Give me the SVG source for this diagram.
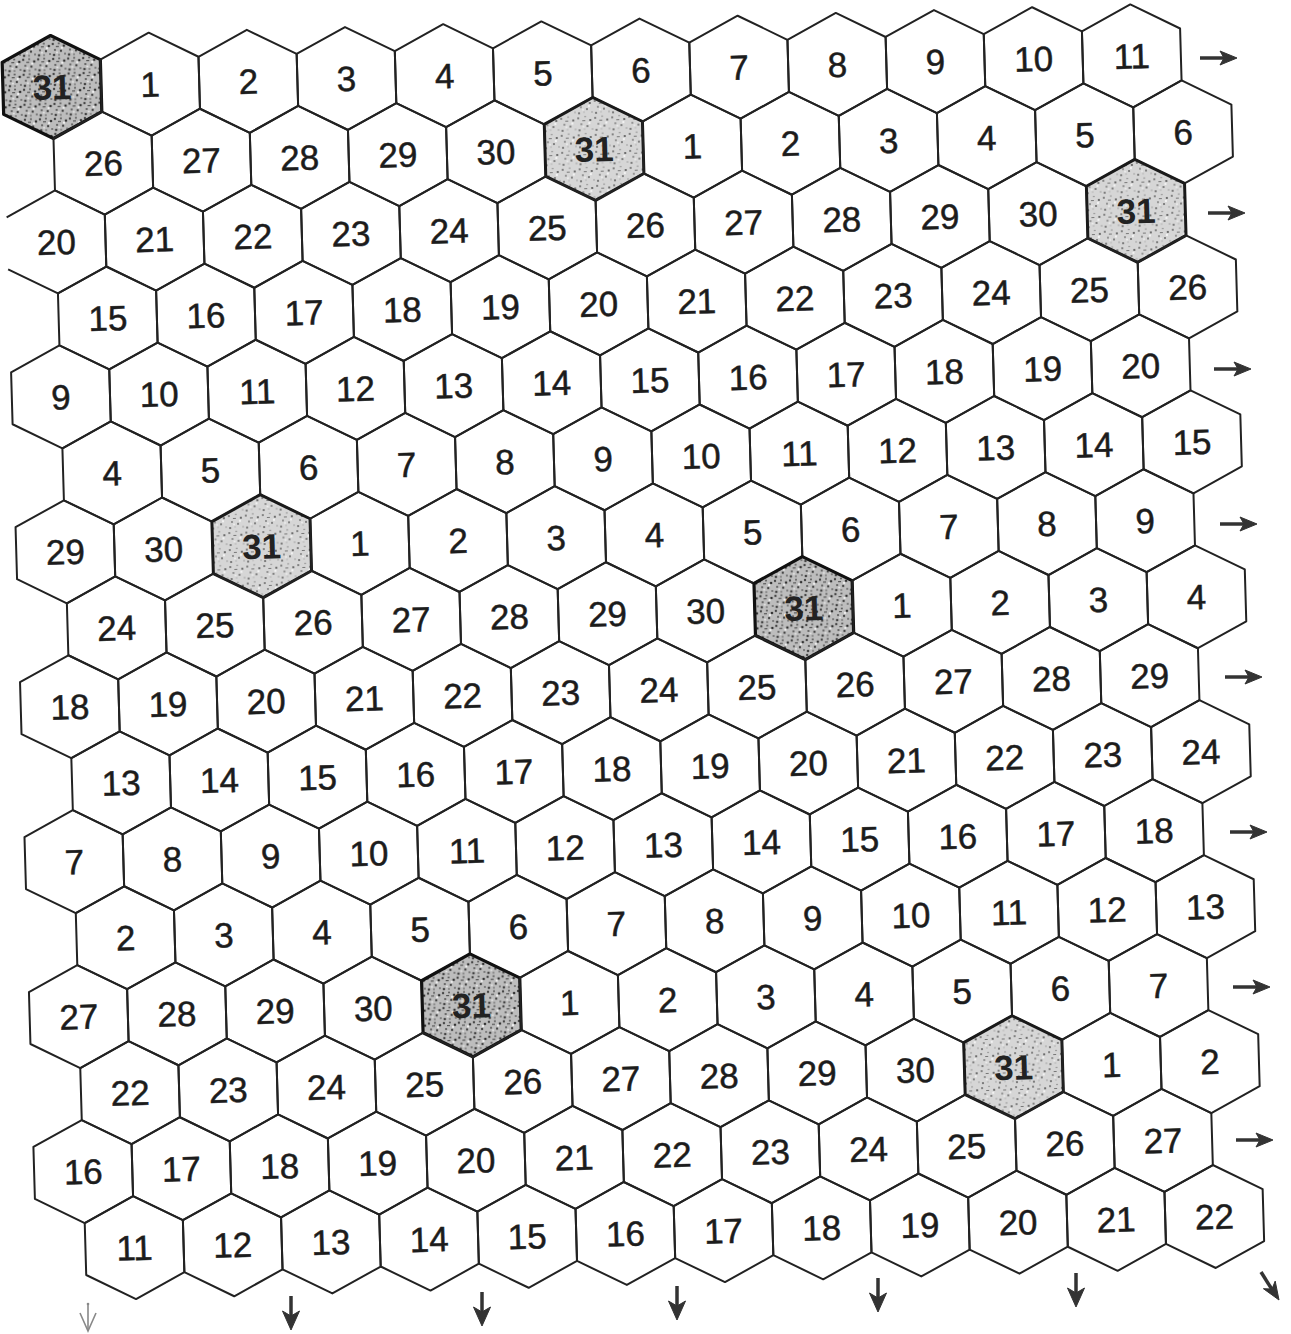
<svg xmlns="http://www.w3.org/2000/svg" xmlns:xlink="http://www.w3.org/1999/xlink" width="1291" height="1334" viewBox="0 0 1291 1334">
<style>
.c{fill:none;stroke:#222;stroke-width:2;stroke-linejoin:round}
.s{fill:url(#dots);stroke:#1a1a1a;stroke-width:3;stroke-linejoin:round}
.sd{fill:url(#dotsd);stroke:#111;stroke-width:3.2;stroke-linejoin:round}
text{font-family:"Liberation Sans",Arial,sans-serif;font-size:35px;text-anchor:middle;fill:#1c1c1c;stroke:#1c1c1c;stroke-width:0.5}
text.b{font-weight:bold;fill:#222;stroke:none}
.sh{stroke:#333;stroke-width:3.5;fill:none}
.hd{fill:#333;stroke:#333;stroke-width:1;stroke-linejoin:round}
.fs{stroke:#888;stroke-width:1.6;fill:none}
</style>
<defs>
<polygon id="hx" points="0,-51.5 49.1,-26 49.1,26 0,51.5 -49.1,26 -49.1,-26"/>
<path id="hxo" d="M-49.1,26 L0,51.5 L49.1,26 L49.1,-26 L0,-51.5 L-49.1,-26"/>
<pattern id="dots" width="17" height="17" patternUnits="userSpaceOnUse">
<rect width="17" height="17" fill="#d6d6d6"/>
<circle cx="2" cy="3" r="1" fill="#666"/><circle cx="9" cy="1.5" r="0.8" fill="#888"/><circle cx="14" cy="5" r="1.1" fill="#555"/>
<circle cx="5" cy="9" r="0.9" fill="#777"/><circle cx="11" cy="11" r="1" fill="#666"/><circle cx="16" cy="14" r="0.8" fill="#999"/>
<circle cx="3" cy="15" r="1.1" fill="#666"/><circle cx="8" cy="14" r="0.7" fill="#aaa"/><rect x="6" y="5" width="3" height="1" fill="#777"/>
<circle cx="13" cy="8" r="1.2" fill="#f2f2f2"/><circle cx="7" cy="11.5" r="1" fill="#eee"/>
</pattern>
<pattern id="dotsd" width="15" height="15" patternUnits="userSpaceOnUse">
<rect width="15" height="15" fill="#bdbdbd"/>
<circle cx="2" cy="2" r="1.2" fill="#444"/><circle cx="8" cy="1.5" r="1" fill="#555"/><circle cx="13" cy="4" r="1.3" fill="#333"/>
<circle cx="4" cy="8" r="1.1" fill="#555"/><circle cx="10" cy="9" r="1.2" fill="#444"/><circle cx="14" cy="12" r="1" fill="#666"/>
<circle cx="3" cy="13" r="1.3" fill="#444"/><circle cx="8" cy="13" r="0.9" fill="#777"/><rect x="5" y="4" width="3" height="1.2" fill="#555"/>
<circle cx="11" cy="6" r="1.2" fill="#eee"/><circle cx="6" cy="10.5" r="1" fill="#e6e6e6"/>
</pattern>
<g id="rarr"><line class="sh" x1="-37" y1="0" x2="-8" y2="0"/><polygon class="hd" points="0,0 -17,-7 -13,0 -17,7"/></g>
<g id="darr"><line class="sh" x1="0" y1="-34" x2="0" y2="-10"/><polygon class="hd" points="0,0 -8.5,-19 0,-14 8.5,-19"/></g>
</defs>
<rect width="1291" height="1334" fill="#fff"/>
<g id="grid" transform="translate(52 87) rotate(-1.65)">
<g id="row0">
<g id="h0-0" transform="translate(0 0)"><use href="#hx" class="sd"/><text class="b" y="12.5">31</text></g>
<g id="h0-1" transform="translate(98.2 0)"><use href="#hx" class="c"/><text y="12.5">1</text></g>
<g id="h0-2" transform="translate(196.4 0)"><use href="#hx" class="c"/><text y="12.5">2</text></g>
<g id="h0-3" transform="translate(294.6 0)"><use href="#hx" class="c"/><text y="12.5">3</text></g>
<g id="h0-4" transform="translate(392.8 0)"><use href="#hx" class="c"/><text y="12.5">4</text></g>
<g id="h0-5" transform="translate(491 0)"><use href="#hx" class="c"/><text y="12.5">5</text></g>
<g id="h0-6" transform="translate(589.2 0)"><use href="#hx" class="c"/><text y="12.5">6</text></g>
<g id="h0-7" transform="translate(687.4 0)"><use href="#hx" class="c"/><text y="12.5">7</text></g>
<g id="h0-8" transform="translate(785.6 0)"><use href="#hx" class="c"/><text y="12.5">8</text></g>
<g id="h0-9" transform="translate(883.8 0)"><use href="#hx" class="c"/><text y="12.5">9</text></g>
<g id="h0-10" transform="translate(982 0)"><use href="#hx" class="c"/><text y="12.5">10</text></g>
<g id="h0-11" transform="translate(1080.2 0)"><use href="#hx" class="c"/><text y="12.5">11</text></g>
</g>
<g id="row1" transform="translate(0 77.5)">
<g id="h1-0" transform="translate(49.1 0)"><use href="#hx" class="c"/><text y="12.5">26</text></g>
<g id="h1-1" transform="translate(147.3 0)"><use href="#hx" class="c"/><text y="12.5">27</text></g>
<g id="h1-2" transform="translate(245.5 0)"><use href="#hx" class="c"/><text y="12.5">28</text></g>
<g id="h1-3" transform="translate(343.7 0)"><use href="#hx" class="c"/><text y="12.5">29</text></g>
<g id="h1-4" transform="translate(441.9 0)"><use href="#hx" class="c"/><text y="12.5">30</text></g>
<g id="h1-5" transform="translate(540.1 0)"><use href="#hx" class="s"/><text class="b" y="12.5">31</text></g>
<g id="h1-6" transform="translate(638.3 0)"><use href="#hx" class="c"/><text y="12.5">1</text></g>
<g id="h1-7" transform="translate(736.5 0)"><use href="#hx" class="c"/><text y="12.5">2</text></g>
<g id="h1-8" transform="translate(834.7 0)"><use href="#hx" class="c"/><text y="12.5">3</text></g>
<g id="h1-9" transform="translate(932.9 0)"><use href="#hx" class="c"/><text y="12.5">4</text></g>
<g id="h1-10" transform="translate(1031.1 0)"><use href="#hx" class="c"/><text y="12.5">5</text></g>
<g id="h1-11" transform="translate(1129.3 0)"><use href="#hx" class="c"/><text y="12.5">6</text></g>
</g>
<g id="row2" transform="translate(0 155)">
<g id="h2-0" transform="translate(0 0)"><use href="#hxo" class="c"/><text y="12.5">20</text></g>
<g id="h2-1" transform="translate(98.2 0)"><use href="#hx" class="c"/><text y="12.5">21</text></g>
<g id="h2-2" transform="translate(196.4 0)"><use href="#hx" class="c"/><text y="12.5">22</text></g>
<g id="h2-3" transform="translate(294.6 0)"><use href="#hx" class="c"/><text y="12.5">23</text></g>
<g id="h2-4" transform="translate(392.8 0)"><use href="#hx" class="c"/><text y="12.5">24</text></g>
<g id="h2-5" transform="translate(491 0)"><use href="#hx" class="c"/><text y="12.5">25</text></g>
<g id="h2-6" transform="translate(589.2 0)"><use href="#hx" class="c"/><text y="12.5">26</text></g>
<g id="h2-7" transform="translate(687.4 0)"><use href="#hx" class="c"/><text y="12.5">27</text></g>
<g id="h2-8" transform="translate(785.6 0)"><use href="#hx" class="c"/><text y="12.5">28</text></g>
<g id="h2-9" transform="translate(883.8 0)"><use href="#hx" class="c"/><text y="12.5">29</text></g>
<g id="h2-10" transform="translate(982 0)"><use href="#hx" class="c"/><text y="12.5">30</text></g>
<g id="h2-11" transform="translate(1080.2 0)"><use href="#hx" class="s"/><text class="b" y="12.5">31</text></g>
</g>
<g id="row3" transform="translate(0 232.5)">
<g id="h3-0" transform="translate(49.1 0)"><use href="#hx" class="c"/><text y="12.5">15</text></g>
<g id="h3-1" transform="translate(147.3 0)"><use href="#hx" class="c"/><text y="12.5">16</text></g>
<g id="h3-2" transform="translate(245.5 0)"><use href="#hx" class="c"/><text y="12.5">17</text></g>
<g id="h3-3" transform="translate(343.7 0)"><use href="#hx" class="c"/><text y="12.5">18</text></g>
<g id="h3-4" transform="translate(441.9 0)"><use href="#hx" class="c"/><text y="12.5">19</text></g>
<g id="h3-5" transform="translate(540.1 0)"><use href="#hx" class="c"/><text y="12.5">20</text></g>
<g id="h3-6" transform="translate(638.3 0)"><use href="#hx" class="c"/><text y="12.5">21</text></g>
<g id="h3-7" transform="translate(736.5 0)"><use href="#hx" class="c"/><text y="12.5">22</text></g>
<g id="h3-8" transform="translate(834.7 0)"><use href="#hx" class="c"/><text y="12.5">23</text></g>
<g id="h3-9" transform="translate(932.9 0)"><use href="#hx" class="c"/><text y="12.5">24</text></g>
<g id="h3-10" transform="translate(1031.1 0)"><use href="#hx" class="c"/><text y="12.5">25</text></g>
<g id="h3-11" transform="translate(1129.3 0)"><use href="#hx" class="c"/><text y="12.5">26</text></g>
</g>
<g id="row4" transform="translate(0 310)">
<g id="h4-0" transform="translate(0 0)"><use href="#hx" class="c"/><text y="12.5">9</text></g>
<g id="h4-1" transform="translate(98.2 0)"><use href="#hx" class="c"/><text y="12.5">10</text></g>
<g id="h4-2" transform="translate(196.4 0)"><use href="#hx" class="c"/><text y="12.5">11</text></g>
<g id="h4-3" transform="translate(294.6 0)"><use href="#hx" class="c"/><text y="12.5">12</text></g>
<g id="h4-4" transform="translate(392.8 0)"><use href="#hx" class="c"/><text y="12.5">13</text></g>
<g id="h4-5" transform="translate(491 0)"><use href="#hx" class="c"/><text y="12.5">14</text></g>
<g id="h4-6" transform="translate(589.2 0)"><use href="#hx" class="c"/><text y="12.5">15</text></g>
<g id="h4-7" transform="translate(687.4 0)"><use href="#hx" class="c"/><text y="12.5">16</text></g>
<g id="h4-8" transform="translate(785.6 0)"><use href="#hx" class="c"/><text y="12.5">17</text></g>
<g id="h4-9" transform="translate(883.8 0)"><use href="#hx" class="c"/><text y="12.5">18</text></g>
<g id="h4-10" transform="translate(982 0)"><use href="#hx" class="c"/><text y="12.5">19</text></g>
<g id="h4-11" transform="translate(1080.2 0)"><use href="#hx" class="c"/><text y="12.5">20</text></g>
</g>
<g id="row5" transform="translate(0 387.5)">
<g id="h5-0" transform="translate(49.1 0)"><use href="#hx" class="c"/><text y="12.5">4</text></g>
<g id="h5-1" transform="translate(147.3 0)"><use href="#hx" class="c"/><text y="12.5">5</text></g>
<g id="h5-2" transform="translate(245.5 0)"><use href="#hx" class="c"/><text y="12.5">6</text></g>
<g id="h5-3" transform="translate(343.7 0)"><use href="#hx" class="c"/><text y="12.5">7</text></g>
<g id="h5-4" transform="translate(441.9 0)"><use href="#hx" class="c"/><text y="12.5">8</text></g>
<g id="h5-5" transform="translate(540.1 0)"><use href="#hx" class="c"/><text y="12.5">9</text></g>
<g id="h5-6" transform="translate(638.3 0)"><use href="#hx" class="c"/><text y="12.5">10</text></g>
<g id="h5-7" transform="translate(736.5 0)"><use href="#hx" class="c"/><text y="12.5">11</text></g>
<g id="h5-8" transform="translate(834.7 0)"><use href="#hx" class="c"/><text y="12.5">12</text></g>
<g id="h5-9" transform="translate(932.9 0)"><use href="#hx" class="c"/><text y="12.5">13</text></g>
<g id="h5-10" transform="translate(1031.1 0)"><use href="#hx" class="c"/><text y="12.5">14</text></g>
<g id="h5-11" transform="translate(1129.3 0)"><use href="#hx" class="c"/><text y="12.5">15</text></g>
</g>
<g id="row6" transform="translate(0 465)">
<g id="h6-0" transform="translate(0 0)"><use href="#hx" class="c"/><text y="12.5">29</text></g>
<g id="h6-1" transform="translate(98.2 0)"><use href="#hx" class="c"/><text y="12.5">30</text></g>
<g id="h6-2" transform="translate(196.4 0)"><use href="#hx" class="s"/><text class="b" y="12.5">31</text></g>
<g id="h6-3" transform="translate(294.6 0)"><use href="#hx" class="c"/><text y="12.5">1</text></g>
<g id="h6-4" transform="translate(392.8 0)"><use href="#hx" class="c"/><text y="12.5">2</text></g>
<g id="h6-5" transform="translate(491 0)"><use href="#hx" class="c"/><text y="12.5">3</text></g>
<g id="h6-6" transform="translate(589.2 0)"><use href="#hx" class="c"/><text y="12.5">4</text></g>
<g id="h6-7" transform="translate(687.4 0)"><use href="#hx" class="c"/><text y="12.5">5</text></g>
<g id="h6-8" transform="translate(785.6 0)"><use href="#hx" class="c"/><text y="12.5">6</text></g>
<g id="h6-9" transform="translate(883.8 0)"><use href="#hx" class="c"/><text y="12.5">7</text></g>
<g id="h6-10" transform="translate(982 0)"><use href="#hx" class="c"/><text y="12.5">8</text></g>
<g id="h6-11" transform="translate(1080.2 0)"><use href="#hx" class="c"/><text y="12.5">9</text></g>
</g>
<g id="row7" transform="translate(0 542.5)">
<g id="h7-0" transform="translate(49.1 0)"><use href="#hx" class="c"/><text y="12.5">24</text></g>
<g id="h7-1" transform="translate(147.3 0)"><use href="#hx" class="c"/><text y="12.5">25</text></g>
<g id="h7-2" transform="translate(245.5 0)"><use href="#hx" class="c"/><text y="12.5">26</text></g>
<g id="h7-3" transform="translate(343.7 0)"><use href="#hx" class="c"/><text y="12.5">27</text></g>
<g id="h7-4" transform="translate(441.9 0)"><use href="#hx" class="c"/><text y="12.5">28</text></g>
<g id="h7-5" transform="translate(540.1 0)"><use href="#hx" class="c"/><text y="12.5">29</text></g>
<g id="h7-6" transform="translate(638.3 0)"><use href="#hx" class="c"/><text y="12.5">30</text></g>
<g id="h7-7" transform="translate(736.5 0)"><use href="#hx" class="sd"/><text class="b" y="12.5">31</text></g>
<g id="h7-8" transform="translate(834.7 0)"><use href="#hx" class="c"/><text y="12.5">1</text></g>
<g id="h7-9" transform="translate(932.9 0)"><use href="#hx" class="c"/><text y="12.5">2</text></g>
<g id="h7-10" transform="translate(1031.1 0)"><use href="#hx" class="c"/><text y="12.5">3</text></g>
<g id="h7-11" transform="translate(1129.3 0)"><use href="#hx" class="c"/><text y="12.5">4</text></g>
</g>
<g id="row8" transform="translate(0 620)">
<g id="h8-0" transform="translate(0 0)"><use href="#hx" class="c"/><text y="12.5">18</text></g>
<g id="h8-1" transform="translate(98.2 0)"><use href="#hx" class="c"/><text y="12.5">19</text></g>
<g id="h8-2" transform="translate(196.4 0)"><use href="#hx" class="c"/><text y="12.5">20</text></g>
<g id="h8-3" transform="translate(294.6 0)"><use href="#hx" class="c"/><text y="12.5">21</text></g>
<g id="h8-4" transform="translate(392.8 0)"><use href="#hx" class="c"/><text y="12.5">22</text></g>
<g id="h8-5" transform="translate(491 0)"><use href="#hx" class="c"/><text y="12.5">23</text></g>
<g id="h8-6" transform="translate(589.2 0)"><use href="#hx" class="c"/><text y="12.5">24</text></g>
<g id="h8-7" transform="translate(687.4 0)"><use href="#hx" class="c"/><text y="12.5">25</text></g>
<g id="h8-8" transform="translate(785.6 0)"><use href="#hx" class="c"/><text y="12.5">26</text></g>
<g id="h8-9" transform="translate(883.8 0)"><use href="#hx" class="c"/><text y="12.5">27</text></g>
<g id="h8-10" transform="translate(982 0)"><use href="#hx" class="c"/><text y="12.5">28</text></g>
<g id="h8-11" transform="translate(1080.2 0)"><use href="#hx" class="c"/><text y="12.5">29</text></g>
</g>
<g id="row9" transform="translate(0 697.5)">
<g id="h9-0" transform="translate(49.1 0)"><use href="#hx" class="c"/><text y="12.5">13</text></g>
<g id="h9-1" transform="translate(147.3 0)"><use href="#hx" class="c"/><text y="12.5">14</text></g>
<g id="h9-2" transform="translate(245.5 0)"><use href="#hx" class="c"/><text y="12.5">15</text></g>
<g id="h9-3" transform="translate(343.7 0)"><use href="#hx" class="c"/><text y="12.5">16</text></g>
<g id="h9-4" transform="translate(441.9 0)"><use href="#hx" class="c"/><text y="12.5">17</text></g>
<g id="h9-5" transform="translate(540.1 0)"><use href="#hx" class="c"/><text y="12.5">18</text></g>
<g id="h9-6" transform="translate(638.3 0)"><use href="#hx" class="c"/><text y="12.5">19</text></g>
<g id="h9-7" transform="translate(736.5 0)"><use href="#hx" class="c"/><text y="12.5">20</text></g>
<g id="h9-8" transform="translate(834.7 0)"><use href="#hx" class="c"/><text y="12.5">21</text></g>
<g id="h9-9" transform="translate(932.9 0)"><use href="#hx" class="c"/><text y="12.5">22</text></g>
<g id="h9-10" transform="translate(1031.1 0)"><use href="#hx" class="c"/><text y="12.5">23</text></g>
<g id="h9-11" transform="translate(1129.3 0)"><use href="#hx" class="c"/><text y="12.5">24</text></g>
</g>
<g id="row10" transform="translate(0 775)">
<g id="h10-0" transform="translate(0 0)"><use href="#hx" class="c"/><text y="12.5">7</text></g>
<g id="h10-1" transform="translate(98.2 0)"><use href="#hx" class="c"/><text y="12.5">8</text></g>
<g id="h10-2" transform="translate(196.4 0)"><use href="#hx" class="c"/><text y="12.5">9</text></g>
<g id="h10-3" transform="translate(294.6 0)"><use href="#hx" class="c"/><text y="12.5">10</text></g>
<g id="h10-4" transform="translate(392.8 0)"><use href="#hx" class="c"/><text y="12.5">11</text></g>
<g id="h10-5" transform="translate(491 0)"><use href="#hx" class="c"/><text y="12.5">12</text></g>
<g id="h10-6" transform="translate(589.2 0)"><use href="#hx" class="c"/><text y="12.5">13</text></g>
<g id="h10-7" transform="translate(687.4 0)"><use href="#hx" class="c"/><text y="12.5">14</text></g>
<g id="h10-8" transform="translate(785.6 0)"><use href="#hx" class="c"/><text y="12.5">15</text></g>
<g id="h10-9" transform="translate(883.8 0)"><use href="#hx" class="c"/><text y="12.5">16</text></g>
<g id="h10-10" transform="translate(982 0)"><use href="#hx" class="c"/><text y="12.5">17</text></g>
<g id="h10-11" transform="translate(1080.2 0)"><use href="#hx" class="c"/><text y="12.5">18</text></g>
</g>
<g id="row11" transform="translate(0 852.5)">
<g id="h11-0" transform="translate(49.1 0)"><use href="#hx" class="c"/><text y="12.5">2</text></g>
<g id="h11-1" transform="translate(147.3 0)"><use href="#hx" class="c"/><text y="12.5">3</text></g>
<g id="h11-2" transform="translate(245.5 0)"><use href="#hx" class="c"/><text y="12.5">4</text></g>
<g id="h11-3" transform="translate(343.7 0)"><use href="#hx" class="c"/><text y="12.5">5</text></g>
<g id="h11-4" transform="translate(441.9 0)"><use href="#hx" class="c"/><text y="12.5">6</text></g>
<g id="h11-5" transform="translate(540.1 0)"><use href="#hx" class="c"/><text y="12.5">7</text></g>
<g id="h11-6" transform="translate(638.3 0)"><use href="#hx" class="c"/><text y="12.5">8</text></g>
<g id="h11-7" transform="translate(736.5 0)"><use href="#hx" class="c"/><text y="12.5">9</text></g>
<g id="h11-8" transform="translate(834.7 0)"><use href="#hx" class="c"/><text y="12.5">10</text></g>
<g id="h11-9" transform="translate(932.9 0)"><use href="#hx" class="c"/><text y="12.5">11</text></g>
<g id="h11-10" transform="translate(1031.1 0)"><use href="#hx" class="c"/><text y="12.5">12</text></g>
<g id="h11-11" transform="translate(1129.3 0)"><use href="#hx" class="c"/><text y="12.5">13</text></g>
</g>
<g id="row12" transform="translate(0 930)">
<g id="h12-0" transform="translate(0 0)"><use href="#hx" class="c"/><text y="12.5">27</text></g>
<g id="h12-1" transform="translate(98.2 0)"><use href="#hx" class="c"/><text y="12.5">28</text></g>
<g id="h12-2" transform="translate(196.4 0)"><use href="#hx" class="c"/><text y="12.5">29</text></g>
<g id="h12-3" transform="translate(294.6 0)"><use href="#hx" class="c"/><text y="12.5">30</text></g>
<g id="h12-4" transform="translate(392.8 0)"><use href="#hx" class="sd"/><text class="b" y="12.5">31</text></g>
<g id="h12-5" transform="translate(491 0)"><use href="#hx" class="c"/><text y="12.5">1</text></g>
<g id="h12-6" transform="translate(589.2 0)"><use href="#hx" class="c"/><text y="12.5">2</text></g>
<g id="h12-7" transform="translate(687.4 0)"><use href="#hx" class="c"/><text y="12.5">3</text></g>
<g id="h12-8" transform="translate(785.6 0)"><use href="#hx" class="c"/><text y="12.5">4</text></g>
<g id="h12-9" transform="translate(883.8 0)"><use href="#hx" class="c"/><text y="12.5">5</text></g>
<g id="h12-10" transform="translate(982 0)"><use href="#hx" class="c"/><text y="12.5">6</text></g>
<g id="h12-11" transform="translate(1080.2 0)"><use href="#hx" class="c"/><text y="12.5">7</text></g>
</g>
<g id="row13" transform="translate(0 1007.5)">
<g id="h13-0" transform="translate(49.1 0)"><use href="#hx" class="c"/><text y="12.5">22</text></g>
<g id="h13-1" transform="translate(147.3 0)"><use href="#hx" class="c"/><text y="12.5">23</text></g>
<g id="h13-2" transform="translate(245.5 0)"><use href="#hx" class="c"/><text y="12.5">24</text></g>
<g id="h13-3" transform="translate(343.7 0)"><use href="#hx" class="c"/><text y="12.5">25</text></g>
<g id="h13-4" transform="translate(441.9 0)"><use href="#hx" class="c"/><text y="12.5">26</text></g>
<g id="h13-5" transform="translate(540.1 0)"><use href="#hx" class="c"/><text y="12.5">27</text></g>
<g id="h13-6" transform="translate(638.3 0)"><use href="#hx" class="c"/><text y="12.5">28</text></g>
<g id="h13-7" transform="translate(736.5 0)"><use href="#hx" class="c"/><text y="12.5">29</text></g>
<g id="h13-8" transform="translate(834.7 0)"><use href="#hx" class="c"/><text y="12.5">30</text></g>
<g id="h13-9" transform="translate(932.9 0)"><use href="#hx" class="s"/><text class="b" y="12.5">31</text></g>
<g id="h13-10" transform="translate(1031.1 0)"><use href="#hx" class="c"/><text y="12.5">1</text></g>
<g id="h13-11" transform="translate(1129.3 0)"><use href="#hx" class="c"/><text y="12.5">2</text></g>
</g>
<g id="row14" transform="translate(0 1085)">
<g id="h14-0" transform="translate(0 0)"><use href="#hx" class="c"/><text y="12.5">16</text></g>
<g id="h14-1" transform="translate(98.2 0)"><use href="#hx" class="c"/><text y="12.5">17</text></g>
<g id="h14-2" transform="translate(196.4 0)"><use href="#hx" class="c"/><text y="12.5">18</text></g>
<g id="h14-3" transform="translate(294.6 0)"><use href="#hx" class="c"/><text y="12.5">19</text></g>
<g id="h14-4" transform="translate(392.8 0)"><use href="#hx" class="c"/><text y="12.5">20</text></g>
<g id="h14-5" transform="translate(491 0)"><use href="#hx" class="c"/><text y="12.5">21</text></g>
<g id="h14-6" transform="translate(589.2 0)"><use href="#hx" class="c"/><text y="12.5">22</text></g>
<g id="h14-7" transform="translate(687.4 0)"><use href="#hx" class="c"/><text y="12.5">23</text></g>
<g id="h14-8" transform="translate(785.6 0)"><use href="#hx" class="c"/><text y="12.5">24</text></g>
<g id="h14-9" transform="translate(883.8 0)"><use href="#hx" class="c"/><text y="12.5">25</text></g>
<g id="h14-10" transform="translate(982 0)"><use href="#hx" class="c"/><text y="12.5">26</text></g>
<g id="h14-11" transform="translate(1080.2 0)"><use href="#hx" class="c"/><text y="12.5">27</text></g>
</g>
<g id="row15" transform="translate(0 1162.5)">
<g id="h15-0" transform="translate(49.1 0)"><use href="#hx" class="c"/><text y="12.5">11</text></g>
<g id="h15-1" transform="translate(147.3 0)"><use href="#hx" class="c"/><text y="12.5">12</text></g>
<g id="h15-2" transform="translate(245.5 0)"><use href="#hx" class="c"/><text y="12.5">13</text></g>
<g id="h15-3" transform="translate(343.7 0)"><use href="#hx" class="c"/><text y="12.5">14</text></g>
<g id="h15-4" transform="translate(441.9 0)"><use href="#hx" class="c"/><text y="12.5">15</text></g>
<g id="h15-5" transform="translate(540.1 0)"><use href="#hx" class="c"/><text y="12.5">16</text></g>
<g id="h15-6" transform="translate(638.3 0)"><use href="#hx" class="c"/><text y="12.5">17</text></g>
<g id="h15-7" transform="translate(736.5 0)"><use href="#hx" class="c"/><text y="12.5">18</text></g>
<g id="h15-8" transform="translate(834.7 0)"><use href="#hx" class="c"/><text y="12.5">19</text></g>
<g id="h15-9" transform="translate(932.9 0)"><use href="#hx" class="c"/><text y="12.5">20</text></g>
<g id="h15-10" transform="translate(1031.1 0)"><use href="#hx" class="c"/><text y="12.5">21</text></g>
<g id="h15-11" transform="translate(1129.3 0)"><use href="#hx" class="c"/><text y="12.5">22</text></g>
</g>
</g>
<g id="connectors">
<use href="#rarr" x="1237" y="58"/>
<use href="#rarr" x="1245" y="213"/>
<use href="#rarr" x="1251" y="369"/>
<use href="#rarr" x="1257" y="524"/>
<use href="#rarr" x="1262" y="677"/>
<use href="#rarr" x="1267" y="832"/>
<use href="#rarr" x="1270" y="987"/>
<use href="#rarr" x="1273" y="1140"/>
<g id="arrow-faint"><line class="fs" x1="88" y1="1303" x2="88" y2="1330"/><polyline class="fs" points="80,1313 88,1331 96,1313"/><circle cx="88" cy="1304" r="1.3" fill="#888"/></g>
<use href="#darr" x="291" y="1330"/>
<use href="#darr" x="482" y="1326"/>
<use href="#darr" x="677" y="1320"/>
<use href="#darr" x="878" y="1312"/>
<use href="#darr" x="1076" y="1307"/>
<g id="arrow-diag"><line class="sh" x1="1261" y1="1272" x2="1273" y2="1291"/><polygon class="hd" points="1279,1300 1275.2,1281.1 1272,1289 1263.4,1288.7"/></g>
</g>
</svg>
